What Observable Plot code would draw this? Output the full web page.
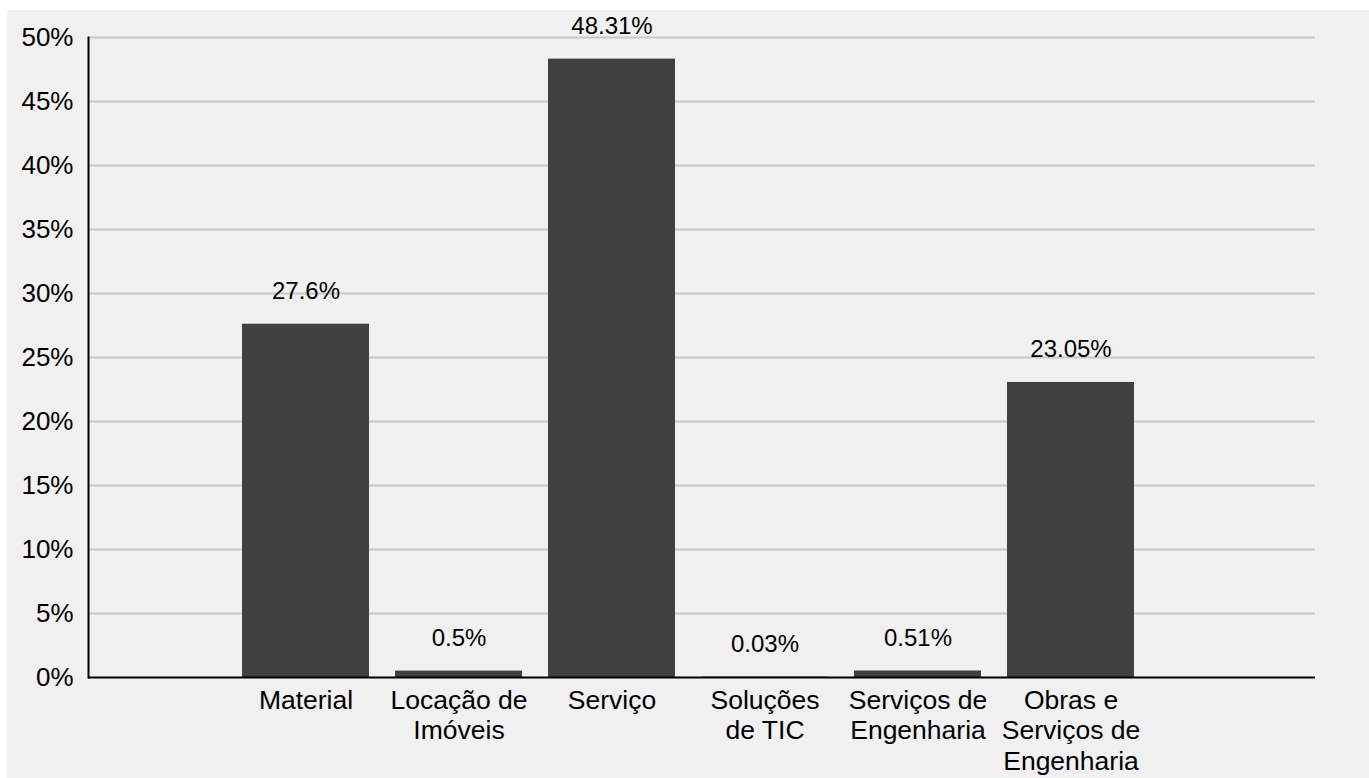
<!DOCTYPE html>
<html>
<head>
<meta charset="utf-8">
<script src="https://cdn.jsdelivr.net/npm/d3@7"></script>
<script src="https://cdn.jsdelivr.net/npm/@observablehq/plot@0.6"></script>
<style>
  html, body { margin: 0; padding: 0; background: #ffffff; }
  #panel { position: absolute; left: 7px; top: 10px; width: 1362px; height: 768px; background: #f0f0f0; }
</style>
</head>
<body>
<div id="panel"></div>
<script>
const categories = ["Material", "Locação de Imóveis", "Serviço", "Soluções de TIC", "Serviços de Engenharia", "Obras e Serviços de Engenharia"];
const tickLabels = ["Material", "Locação de\nImóveis", "Serviço", "Soluções\nde TIC", "Serviços de\nEngenharia", "Obras e\nServiços de\nEngenharia"];
const values = [27.6, 0.5, 48.31, 0.03, 0.51, 23.05];
const yTicks = [0, 5, 10, 15, 20, 25, 30, 35, 40, 45, 50];

const data = categories.map((c, i) => ({cat: c, val: values[i]}));
const labelOf = new Map(categories.map((c, i) => [c, tickLabels[i]]));

const chart = Plot.plot({
  width: 1362,
  height: 768,
  marginLeft: 81,
  marginRight: 54,
  marginTop: 27,
  marginBottom: 101,
  style: {background: "#f0f0f0", fontFamily: "'Liberation Sans', Arial, sans-serif", color: "#000"},
  x: {domain: categories, range: [220.8, 1141.2], paddingInner: 0.172, paddingOuter: 0.086, label: null},
  y: {domain: [0, 50], label: null},
  marks: [
    Plot.ruleY(yTicks.filter(d => d > 0), {stroke: "#c8c8c8", strokeWidth: 2}),
    Plot.barY(data, {x: "cat", y: "val", fill: "#404040"}),
    Plot.ruleY([0], {stroke: "#000", strokeWidth: 2}),
    Plot.frame({anchor: "left", stroke: "#000", strokeWidth: 2}),
    Plot.text(data, {x: "cat", y: "val", text: d => d.val + "%", dy: -33, fontSize: 24, fill: "#000"}),
    Plot.axisY({ticks: yTicks, tickFormat: d => d + "%", tickSize: 0, tickPadding: 15, fontSize: 26, label: null}),
    Plot.axisX({tickSize: 0, tickPadding: 10, fontSize: 26.5, lineHeight: 1.143, tickFormat: d => labelOf.get(d), label: null})
  ]
});
document.getElementById("panel").appendChild(chart);
</script>
</body>
</html>
